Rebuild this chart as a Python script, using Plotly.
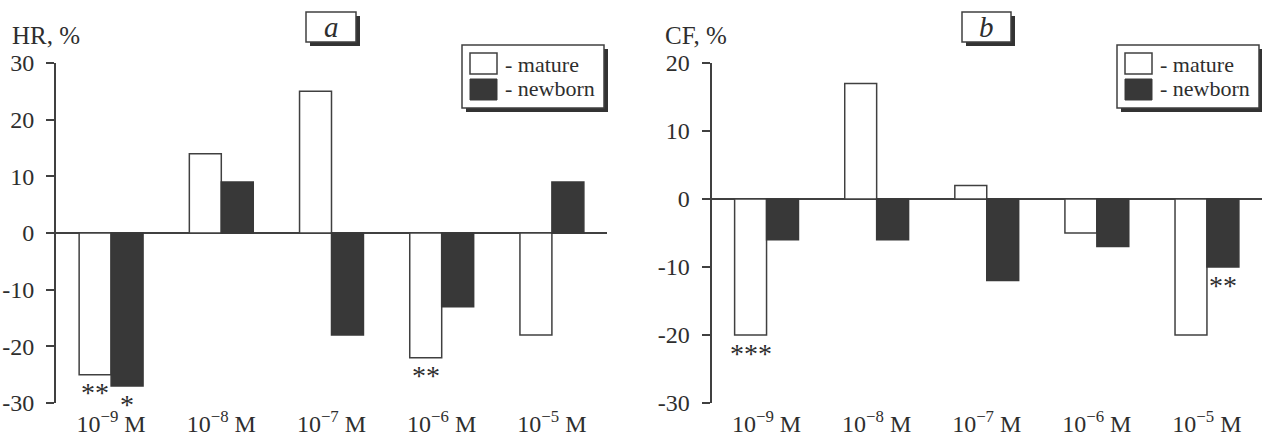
import plotly.graph_objects as go

# ---------------- data ----------------
categories = ["10<sup>−9</sup> M", "10<sup>−8</sup> M", "10<sup>−7</sup> M",
              "10<sup>−6</sup> M", "10<sup>−5</sup> M"]
hr_mature = [-25, 14, 25, -22, -18]
hr_newborn = [-27, 9, -18, -13, 9]
cf_mature = [-20, 17, 2, -5, -20]
cf_newborn = [-6, -6, -12, -7, -10]
hr_sig_mature = ["**", "", "", "**", ""]
hr_sig_newborn = ["*", "", "", "", ""]
cf_sig_mature = ["***", "", "", "", ""]
cf_sig_newborn = ["", "", "", "", "**"]
hr_ticks = [-30, -20, -10, 0, 10, 20, 30]
cf_ticks = [-30, -20, -10, 0, 10, 20]
series_names = ["- mature", "- newborn"]

# ---------------- style ----------------
W, H = 1262, 438
ML, MR, MT, MB = 0, 0, 63, 35
FONT = "Liberation Serif"
DARK = "#383838"
LINE = "#404040"
TXT = "#2e2e2e"
BARGAP = 0.42

fig = go.Figure()

def add_bars(mature, newborn, xa, ya):
    fig.add_trace(go.Bar(x=categories, y=mature, name=series_names[0],
                         marker=dict(color="white", line=dict(color=LINE, width=1.5)),
                         xaxis=xa, yaxis=ya, showlegend=False))
    fig.add_trace(go.Bar(x=categories, y=newborn, name=series_names[1],
                         marker=dict(color=DARK, line=dict(color=DARK, width=1.5)),
                         xaxis=xa, yaxis=ya, showlegend=False))

add_bars(hr_mature, hr_newborn, "x", "y")
add_bars(cf_mature, cf_newborn, "x2", "y2")

half = (1 - BARGAP) / 4.0
annotations = []

def add_sig(sig_list, values, side, xref, yref):
    for i, (s, v) in enumerate(zip(sig_list, values)):
        if s:
            annotations.append(dict(x=i + side * half, y=v, xref=xref, yref=yref,
                                    text=s, showarrow=False, yanchor="middle",
                                    yshift=-18, font=dict(family=FONT, size=28, color=TXT)))

add_sig(hr_sig_mature, hr_mature, -1, "x", "y")
add_sig(hr_sig_newborn, hr_newborn, 1, "x", "y")
add_sig(cf_sig_mature, cf_mature, -1, "x2", "y2")
add_sig(cf_sig_newborn, cf_newborn, 1, "x2", "y2")

PW = W - ML - MR
PH = H - MT - MB

def px(xp):
    return (xp - ML) / PW

def py(yp):
    return (H - MB - yp) / PH

shapes = []

def boxed(x0, y0, x1, y1, sh=4):
    shapes.append(dict(type="rect", xref="paper", yref="paper",
                       x0=px(x0 + sh), x1=px(x1 + sh), y0=py(y1 + sh), y1=py(y0 + sh),
                       fillcolor="#333333", line=dict(width=0), layer="above"))
    shapes.append(dict(type="rect", xref="paper", yref="paper",
                       x0=px(x0), x1=px(x1), y0=py(y1), y1=py(y0),
                       fillcolor="white", line=dict(color=LINE, width=1.5), layer="above"))

def legend(x0, x1):
    boxed(x0, 45, x1, 108)
    sx = x0 + 8
    shapes.append(dict(type="rect", xref="paper", yref="paper",
                       x0=px(sx), x1=px(sx + 27), y0=py(74), y1=py(53),
                       fillcolor="white", line=dict(color=LINE, width=1.5), layer="above"))
    shapes.append(dict(type="rect", xref="paper", yref="paper",
                       x0=px(sx), x1=px(sx + 27), y0=py(100), y1=py(79),
                       fillcolor=DARK, line=dict(color=DARK, width=1), layer="above"))
    for name, yc in zip(series_names, [64, 89]):
        annotations.append(dict(x=px(sx + 33), y=py(yc), xref="paper", yref="paper",
                                text=name, showarrow=False, xanchor="left", yanchor="middle",
                                font=dict(family=FONT, size=22, color=TXT)))

legend(462, 604)
legend(1117, 1259)

def title_box(x0, x1, label):
    boxed(x0, 12, x1, 42)
    annotations.append(dict(x=px((x0 + x1) / 2), y=py(27), xref="paper", yref="paper",
                            text="<i>" + label + "</i>", showarrow=False,
                            xanchor="center", yanchor="middle",
                            font=dict(family=FONT, size=29, color=TXT)))

title_box(306, 356, "a")
title_box(962, 1011, "b")

for txt, x0 in [("HR, %", 10), ("CF, %", 663)]:
    annotations.append(dict(x=px(x0), y=py(35), xref="paper", yref="paper",
                            text=txt, showarrow=False, xanchor="left", yanchor="middle",
                            font=dict(family=FONT, size=25, color=TXT)))

xcommon = dict(type="category", range=[-0.5, 4.5], showline=False, ticks="",
               showgrid=False, zeroline=False, ticklabelstandoff=4, automargin=False,
               tickfont=dict(family=FONT, size=24, color=TXT), fixedrange=True)
ycommon = dict(showline=True, linecolor=LINE, linewidth=2, ticks="outside",
               ticklen=8, tickwidth=2, tickcolor=LINE, showgrid=False,
               zeroline=True, zerolinecolor=LINE, zerolinewidth=2, automargin=False,
               tickfont=dict(family=FONT, size=24, color=TXT), ticklabelstandoff=7)

fig.update_layout(
    width=W, height=H,
    margin=dict(l=ML, r=MR, t=MT, b=MB),
    paper_bgcolor="white", plot_bgcolor="white",
    barmode="group", bargap=BARGAP, bargroupgap=0,
    xaxis=dict(domain=[px(56), px(607)], anchor="y", **xcommon),
    xaxis2=dict(domain=[px(711.5), 1.0], anchor="y2", **xcommon),
    yaxis=dict(range=[-30, 30], anchor="x", tickvals=hr_ticks,
               ticktext=[str(t) for t in hr_ticks], **ycommon),
    yaxis2=dict(range=[-30, 20], anchor="x2", tickvals=cf_ticks,
                ticktext=[str(t) for t in cf_ticks], **ycommon),
    shapes=shapes,
    annotations=annotations,
    showlegend=False,
)

fig.write_html("out.html")
